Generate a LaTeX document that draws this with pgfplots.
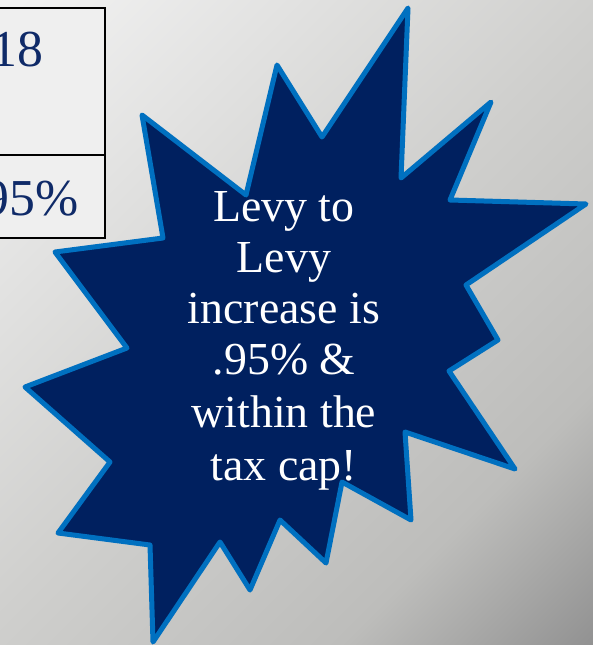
\documentclass[border=0pt]{standalone}
\usepackage{pgfplots}
\pgfplotsset{compat=1.18}
\usepackage{fontspec}
\setmainfont{Liberation Serif}

\definecolor{starFill}{HTML}{00205F}
\definecolor{starEdge}{HTML}{0070C0}
\definecolor{cellFill}{HTML}{EFEFEF}
\definecolor{tabText}{HTML}{0F2A68}
\definecolor{bg0}{HTML}{F3F3F3}
\definecolor{bg1}{HTML}{CFCFCD}
\definecolor{bg2}{HTML}{BDBDBB}
\definecolor{bg3}{HTML}{929292}

% gradient from top left to bottom right (path box sits in 14.6..85.4bp once turned)
\pgfdeclarehorizontalshading{bgshade}{100bp}{color(0bp)=(bg0); color(14.6bp)=(bg0);
  color(50bp)=(bg1); color(71bp)=(bg2); color(85.4bp)=(bg3); color(100bp)=(bg3)}

\begin{document}
\begin{tikzpicture}
  \begin{axis}[
    width=593bp, height=645bp, scale only axis,
    xmin=0, xmax=593, ymin=0, ymax=645,
    y dir=reverse,
    hide axis,
  ]
    % slide background
    \addplot[draw=none, shade, shading=bgshade, shading angle=-45]
      coordinates {(0,0) (593,0) (593,645) (0,645)} -- cycle;

    % table cells
    \addplot[draw=black, line width=2bp, fill=cellFill]
      coordinates {(-5,8) (105,8) (105,155) (-5,155)} -- cycle;
    \addplot[draw=black, line width=2bp, fill=cellFill]
      coordinates {(-5,155) (105,155) (105,238) (-5,238)} -- cycle;
    \node[anchor=base east, text=tabText, font=\fontsize{52}{58}\selectfont]
      at (47,67) {2018};
    \node[anchor=base east, text=tabText, font=\fontsize{52}{58}\selectfont]
      at (82,215) {.95\%};

    % starburst
    \addplot[draw=starEdge, line width=5bp, fill=starFill, line join=round]
      coordinates {
        (408,8) (401,178) (491,102) (450,200) (586,204) (466,285)
        (498,340) (449,371) (515,469) (405,432) (411,520) (342,482)
        (326,563) (280,520) (250,590) (220,542) (153,642) (150,545)
        (58,533) (110,462) (25,387) (127,348) (55,252) (163,238)
        (142,115) (246,195) (277,65) (322,137)
      } -- cycle;

    \begin{scope}[every node/.style={anchor=base, text=white,
        font=\fontsize{46}{52}\selectfont}]
      \node at (284,221) {Levy to};
      \node at (284,272) {Levy};
      \node at (284,323) {increase is};
      \node at (284,374) {.95\% \&};
      \node at (284,427) {within the};
      \node at (284,480) {tax cap!};
    \end{scope}
  \end{axis}
  \pgfresetboundingbox
  \path[use as bounding box] (current axis.south west) rectangle (current axis.north east);
\end{tikzpicture}
\end{document}
